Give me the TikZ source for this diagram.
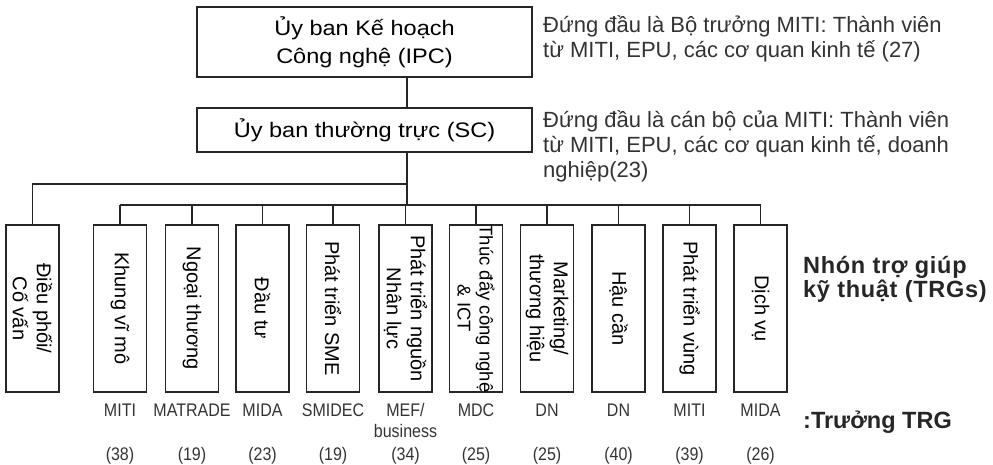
\documentclass[tikz,border=0pt]{standalone}
\usepackage{fontspec}
\setmainfont{Liberation Sans}
\newfontfamily\boxfont[FakeStretch=1.12]{Liberation Sans}
\newfontfamily\narrowfont[FakeStretch=0.88]{Liberation Sans}
\begin{document}
\begin{tikzpicture}[x=1pt,y=-1pt,
  box/.style={draw=black!85, line width=1.4pt, fill=white, inner sep=0pt},
  topbox/.style={box, minimum width=335pt, font=\boxfont\fontsize{21}{28}\selectfont, align=center},
  vbox/.style={box, minimum width=53pt, minimum height=167pt},
  vtext/.style={rotate=-90, align=center, inner sep=0pt, font=\fontsize{20}{24}\selectfont},
  conn/.style={draw=black!85, line width=1.6pt},
  lab/.style={font=\narrowfont\fontsize{18.2}{20}\selectfont, anchor=base, inner sep=0pt, text=black!80},
  note/.style={font=\fontsize{22}{25}\selectfont, align=left, anchor=base west, inner sep=0pt, text=black!80},
  bnote/.style={font=\bfseries\fontsize{23.5}{24}\selectfont, align=left, anchor=base west, inner sep=0pt, text=black!85}
]
\useasboundingbox (0,0) rectangle (993,465);

% top boxes
\node[topbox, minimum height=70pt] (ipc) at (364.5,42) {Ủy ban Kế hoạch\\Công nghệ (IPC)};
\node[topbox, minimum height=44pt] (sc) at (364.5,130) {Ủy ban thường trực (SC)};

% notes (anchored at the baseline of their last line)
\node[note] (n1) at (543,58) {Đứng đầu là Bộ trưởng MITI: Thành viên\\từ MITI, EPU, các cơ quan kinh tế (27)};
\node[note] (n2) at (543,178) {Đứng đầu là cán bộ của MITI: Thành viên\\từ MITI, EPU, các cơ quan kinh tế, doanh\\nghiệp(23)};
\node[bnote] (trg) at (803,297) {\addfontfeatures{LetterSpace=3}Nhón trợ giúp\\\addfontfeatures{LetterSpace=3}kỹ thuật (TRGs)};
\node[bnote] (head) at (803,428) {:Trưởng TRG};

% coordinates of the tree
\coordinate (hub) at (407,184);
\coordinate (inner) at (407,205);
\coordinate (lefttop) at (32.5,184);
\coordinate (ileft) at (120,205);
\coordinate (iright) at (760.5,205);

% vertical boxes
\node[vbox] (b0) at (32.5,308.5) {};
\node[vbox] (b1) at (120,308.5) {};
\node[vbox] (b2) at (192,308.5) {};
\node[vbox] (b3) at (262.5,308.5) {};
\node[vbox] (b4) at (333,308.5) {};
\node[vbox] (b5) at (405.5,308.5) {};
\node[vbox] (b6) at (476,308.5) {};
\node[vbox] (b7) at (547,308.5) {};
\node[vbox] (b8) at (618.5,308.5) {};
\node[vbox] (b9) at (689.5,308.5) {};
\node[vbox] (b10) at (760.5,308.5) {};

\node[vtext] (t0) at (b0) {Điều phối/\\Cố vấn};
\node[vtext] (t1) at (b1) {Khung vĩ mô};
\node[vtext] (t2) at (b2) {Ngoại thương};
\node[vtext] (t3) at (b3) {Đầu tư};
\node[vtext] (t4) at (b4) {Phát triển SME};
\node[vtext] (t5) at (b5) {Phát triển nguồn\\Nhân lực};
\node[vtext, font=\fontsize{18.5}{22}\selectfont] (t6) at (b6) {Thúc đẩy công nghệ\\\& ICT};
\node[vtext] (t7) at (b7) {Marketing/\\thương hiệu};
\node[vtext] (t8) at (b8) {Hậu cần};
\node[vtext] (t9) at (b9) {Phát triển vùng};
\node[vtext] (t10) at (b10) {Dịch vụ};

% connectors
\draw[conn] (ipc.south -| hub) -- (sc.north -| hub);
\draw[conn] (sc.south -| hub) -- (inner);
\draw[conn] (hub) -- (lefttop) -- (b0.north);
\draw[conn] (ileft) -- (iright);
\foreach \b in {b1,b2,b3,b4,b5,b6,b7,b8,b9,b10}{
  \draw[conn] (\b.north |- inner) -- (\b.north);
}

% bottom labels
\node[lab] (l1) at (120,416) {MITI};
\node[lab] (l2) at (192,416) {MATRADE};
\node[lab] (l3) at (262.5,416) {MIDA};
\node[lab] (l4) at (333,416) {SMIDEC};
\node[lab] (l5) at (405.5,416) {MEF/};
\node[lab] (l5b) at (405.5,437) {business};
\node[lab] (l6) at (476,416) {MDC};
\node[lab] (l7) at (547,416) {DN};
\node[lab] (l8) at (618.5,416) {DN};
\node[lab] (l9) at (689.5,416) {MITI};
\node[lab] (l10) at (760.5,416) {MIDA};

\node[lab] (c1) at (120,460) {(38)};
\node[lab] (c2) at (192,460) {(19)};
\node[lab] (c3) at (262.5,460) {(23)};
\node[lab] (c4) at (333,460) {(19)};
\node[lab] (c5) at (405.5,460) {(34)};
\node[lab] (c6) at (476,460) {(25)};
\node[lab] (c7) at (547,460) {(25)};
\node[lab] (c8) at (618.5,460) {(40)};
\node[lab] (c9) at (689.5,460) {(39)};
\node[lab] (c10) at (760.5,460) {(26)};
\end{tikzpicture}
\end{document}
